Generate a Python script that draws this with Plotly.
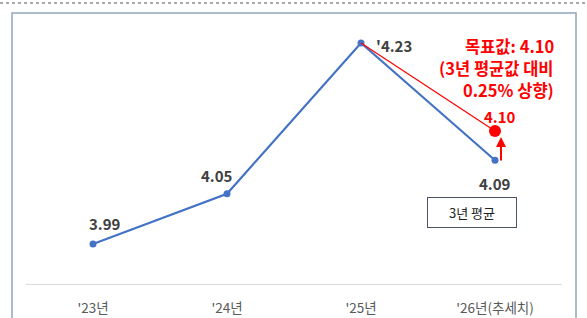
import plotly.graph_objects as go

categories = ["'23년", "'24년", "'25년", "'26년(추세치)"]
values = [3.99, 4.05, 4.23, 4.09]
value_labels = ["3.99", "4.05", "'4.23", "4.09"]
target_x = ["'25년", "'26년(추세치)"]
target_values = [4.23, 4.10]
target_label = "4.10"
target_note_lines = ["목표값: 4.10", "(3년 평균값 대비", "0.25% 상향)"]
box_label = "3년 평균"

FONT = "Noto Sans CJK KR"
BLUE = "#4472C4"
RED = "#FF0000"
GREY = "#404040"

fig = go.Figure()
fig.add_trace(go.Scatter(
    x=categories, y=values, mode="lines+markers",
    line=dict(color=BLUE, width=2.2),
    marker=dict(color=BLUE, size=7),
    hoverinfo="skip", showlegend=False,
))
fig.add_trace(go.Scatter(
    x=target_x, y=target_values, mode="lines",
    line=dict(color=RED, width=1.2),
    yaxis="y2", hoverinfo="skip", showlegend=False,
))
fig.add_trace(go.Scatter(
    x=target_x[1:], y=target_values[1:], mode="markers",
    marker=dict(color=RED, size=12),
    yaxis="y2", hoverinfo="skip", showlegend=False,
))

label_shifts = [(12, 20), (-10, 18), (33, -2), (0, -23)]
for c, v, t, (dx, dy) in zip(categories, values, value_labels, label_shifts):
    fig.add_annotation(x=c, y=v, text=f"<b>{t}</b>", showarrow=False,
                       xshift=dx, yshift=dy,
                       font=dict(family=FONT, size=15, color=GREY))

fig.add_annotation(x=target_x[1], y=target_values[1], yref="y2",
                   text=f"<b>{target_label}</b>", showarrow=False,
                   xshift=5, yshift=15,
                   font=dict(family=FONT, size=15, color=RED))
fig.add_annotation(x=target_x[1], y=target_values[1], yref="y2",
                   ax=0, ay=31, text="", showarrow=True,
                   arrowhead=2, arrowsize=1, arrowwidth=2, arrowcolor=RED,
                   standoff=6, xshift=6)
for line, ypx in zip(target_note_lines, [46, 68, 90]):
    fig.add_annotation(xref="paper", yref="paper", x=(555 - 26) / 536,
                       y=(284 - ypx) / 264,
                       xanchor="right", yanchor="middle", align="right",
                       text=f"<b>{line}</b>", showarrow=False, borderpad=0,
                       font=dict(family=FONT, size=16.5, color=RED))
fig.add_annotation(xref="paper", yref="paper", x=(472 - 26) / 536, y=(284 - 212) / 264,
                   xanchor="center", yanchor="middle",
                   text=box_label, showarrow=False, width=76, height=17,
                   bordercolor="#4a5566", borderwidth=1, borderpad=6,
                   bgcolor="white",
                   font=dict(family=FONT, size=13, color="#222222"))

shapes = [
    dict(type="rect", xref="paper", yref="paper",
         x0=(12 - 26) / 536, x1=(576 - 26) / 536,
         y0=(284 - 330) / 264, y1=(284 - 13) / 264,
         line=dict(color="#8fa8c0", width=1.5), layer="below"),
    dict(type="line", xref="paper", yref="paper",
         x0=-26 / 536, x1=(587 - 26) / 536,
         y0=(284 - 3) / 264, y1=(284 - 3) / 264,
         line=dict(color="#555555", width=1, dash="dot")),
]

fig.update_layout(
    width=587, height=318,
    margin=dict(l=26, r=25, t=20, b=34, autoexpand=False),
    paper_bgcolor="white", plot_bgcolor="white",
    font=dict(family=FONT),
    shapes=shapes,
    xaxis=dict(type="category", range=[-0.5, 3.5], showgrid=False,
               showline=True, linecolor="#d9d9d9", linewidth=1,
               ticks="", ticklabelstandoff=12, zeroline=False,
               automargin=False,
               tickfont=dict(family=FONT, size=13.5, color="#595959")),
    yaxis=dict(range=[3.9422, 4.2575], visible=False, showgrid=False,
               automargin=False),
    yaxis2=dict(range=[3.874, 4.264], overlaying="y", visible=False,
                showgrid=False, automargin=False),
)

fig.write_html("out.html", config={"displayModeBar": False},
               post_script="document.body.style.margin='0';document.body.style.overflow='hidden';")
